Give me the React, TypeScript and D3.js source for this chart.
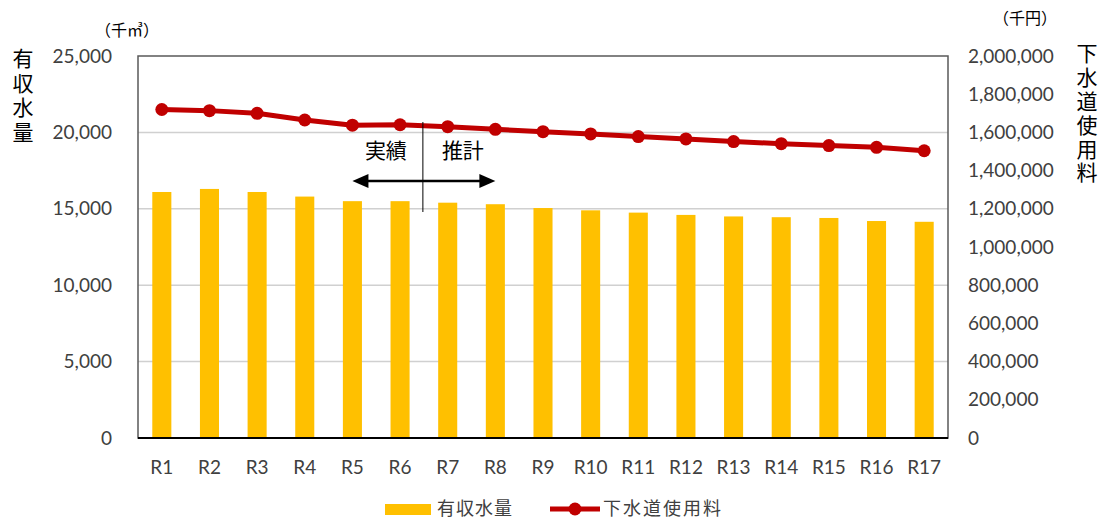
import * as d3 from 'd3';
import React, { useRef, useEffect } from 'react';

const categories = ['R1','R2','R3','R4','R5','R6','R7','R8','R9','R10','R11','R12','R13','R14','R15','R16','R17'];
const volume = [16100, 16300, 16100, 15800, 15500, 15500, 15400, 15300, 15050, 14900, 14750, 14600, 14500, 14450, 14400, 14200, 14150];
const charge = [1720000, 1714000, 1700000, 1665000, 1638000, 1640000, 1630000, 1616000, 1604000, 1592000, 1578000, 1566000, 1552000, 1541000, 1531000, 1522000, 1504000];
const leftTicks = [0, 5000, 10000, 15000, 20000, 25000];
const rightTicks = [0, 200000, 400000, 600000, 800000, 1000000, 1200000, 1400000, 1600000, 1800000, 2000000];

const W = 1101, H = 522;
const FONT = "Lato, 'Noto Sans CJK JP', sans-serif";
const JP = "'Noto Sans CJK JP', sans-serif";

function App() {
  const ref = useRef<SVGSVGElement>(null);

  useEffect(() => {
    const svg = d3.select(ref.current);
    svg.selectAll('*').remove();

    const m = { top: 56, right: 153, bottom: 84, left: 138 };
    const x = d3.scaleBand().domain(categories).range([m.left, W - m.right]).paddingInner(0.6).paddingOuter(0.3);
    const yL = d3.scaleLinear().domain([0, 25000]).range([H - m.bottom, m.top]);
    const yR = d3.scaleLinear().domain([0, 2000000]).range([H - m.bottom, m.top]);
    const fmt = d3.format(',');
    const band = (W - m.right - m.left) / categories.length;
    const cx = (c: string) => (x(c) as number) + x.bandwidth() / 2;

    // grid
    svg.append('g').selectAll('line').data(leftTicks.slice(1, -1)).join('line')
      .attr('x1', m.left).attr('x2', W - m.right)
      .attr('y1', d => yL(d)).attr('y2', d => yL(d))
      .attr('stroke', '#d0d0d0').attr('stroke-width', 1.5);

    // frame
    svg.append('rect').attr('x', m.left).attr('y', m.top)
      .attr('width', W - m.right - m.left).attr('height', H - m.bottom - m.top)
      .attr('fill', 'none').attr('stroke', '#595959').attr('stroke-width', 1.5);

    // bars
    svg.append('g').selectAll('rect').data(volume).join('rect')
      .attr('x', (d, i) => x(categories[i]) as number)
      .attr('width', x.bandwidth())
      .attr('y', d => yL(d))
      .attr('height', d => yL(0) - yL(d))
      .attr('fill', '#FFC000');

    // bottom axis line
    svg.append('line').attr('x1', m.left).attr('x2', W - m.right)
      .attr('y1', yL(0)).attr('y2', yL(0)).attr('stroke', '#000').attr('stroke-width', 2);

    // line
    const line = d3.line<number>().x((d, i) => cx(categories[i])).y(d => yR(d));
    svg.append('path').datum(charge).attr('d', line)
      .attr('fill', 'none').attr('stroke', '#C00000').attr('stroke-width', 5).attr('stroke-linejoin', 'round');
    svg.append('g').selectAll('circle').data(charge).join('circle')
      .attr('cx', (d, i) => cx(categories[i])).attr('cy', d => yR(d)).attr('r', 6.5)
      .attr('fill', '#C00000');

    // left ticks
    svg.append('g').selectAll('text').data(leftTicks).join('text')
      .attr('x', 112).attr('y', d => yL(d)).attr('dy', '0.35em')
      .attr('text-anchor', 'end').attr('font-family', FONT).attr('font-size', 19).attr('fill', '#404040')
      .text(d => fmt(d));

    // right ticks
    svg.append('g').selectAll('text').data(rightTicks).join('text')
      .attr('x', 968).attr('y', d => yR(d)).attr('dy', '0.35em')
      .attr('text-anchor', 'start').attr('font-family', FONT).attr('font-size', 19).attr('fill', '#404040')
      .text(d => fmt(d));

    // x labels
    svg.append('g').selectAll('text').data(categories).join('text')
      .attr('x', d => cx(d)).attr('y', 467).attr('dy', '0.35em')
      .attr('text-anchor', 'middle').attr('font-family', FONT).attr('font-size', 19).attr('fill', '#404040')
      .text(d => d);

    // units
    svg.append('text').attr('x', 127).attr('y', 30).attr('dy', '0.35em').attr('text-anchor', 'middle')
      .attr('font-family', JP).attr('font-size', 16).attr('fill', '#000').text('（千㎥）');
    svg.append('text').attr('x', 1025).attr('y', 18).attr('dy', '0.35em').attr('text-anchor', 'middle')
      .attr('font-family', JP).attr('font-size', 16).attr('fill', '#000').text('（千円）');

    // vertical titles
    const vt = (label: string, xx: number, y0: number, spacing: number) => {
      svg.append('text').attr('x', xx).attr('y', y0)
        .style('writing-mode', 'vertical-rl').attr('letter-spacing', spacing)
        .attr('font-family', JP).attr('font-size', 21).attr('fill', '#000')
        .text(label);
    };
    vt('有収水量', 23, 48, 3.5);
    vt('下水道使用料', 1087, 43, 2.8);

    // annotation
    const split = m.left + band * 6 - 1;
    svg.append('line').attr('x1', split).attr('x2', split).attr('y1', 122).attr('y2', 212)
      .attr('stroke', '#000').attr('stroke-width', 1);
    const ax0 = cx('R5'), ax1 = cx('R8'), ay = 181;
    svg.append('line').attr('x1', ax0 + 10).attr('x2', ax1 - 10).attr('y1', ay).attr('y2', ay)
      .attr('stroke', '#000').attr('stroke-width', 2.5);
    svg.append('path').attr('d', `M${ax0},${ay}L${ax0 + 16},${ay - 7}L${ax0 + 16},${ay + 7}Z`).attr('fill', '#000');
    svg.append('path').attr('d', `M${ax1},${ay}L${ax1 - 16},${ay - 7}L${ax1 - 16},${ay + 7}Z`).attr('fill', '#000');
    svg.append('text').attr('x', split - 37).attr('y', 151).attr('dy', '0.35em').attr('text-anchor', 'middle')
      .attr('font-family', JP).attr('font-size', 21).attr('fill', '#000').text('実績');
    svg.append('text').attr('x', split + 40).attr('y', 151).attr('dy', '0.35em').attr('text-anchor', 'middle')
      .attr('font-family', JP).attr('font-size', 21).attr('fill', '#000').text('推計');

    // legend
    const lg = svg.append('g');
    const ly = 509;
    lg.append('rect').attr('x', 385).attr('y', ly - 5).attr('width', 46).attr('height', 11).attr('fill', '#FFC000');
    lg.append('text').attr('x', 437).attr('y', ly).attr('dy', '0.35em').attr('font-family', JP)
      .attr('font-size', 18).attr('letter-spacing', 1).attr('fill', '#404040').text('有収水量');
    lg.append('line').attr('x1', 550).attr('x2', 600).attr('y1', ly).attr('y2', ly)
      .attr('stroke', '#C00000').attr('stroke-width', 5);
    lg.append('circle').attr('cx', 575).attr('cy', ly).attr('r', 6.5).attr('fill', '#C00000');
    lg.append('text').attr('x', 603).attr('y', ly).attr('dy', '0.35em').attr('font-family', JP)
      .attr('font-size', 18).attr('letter-spacing', 2).attr('fill', '#404040').text('下水道使用料');
  }, []);

  return (
    <svg ref={ref} width={W} height={H} style={{ position: 'absolute', left: 0, top: 0, background: '#fff' }} />
  );
}

export default App;
